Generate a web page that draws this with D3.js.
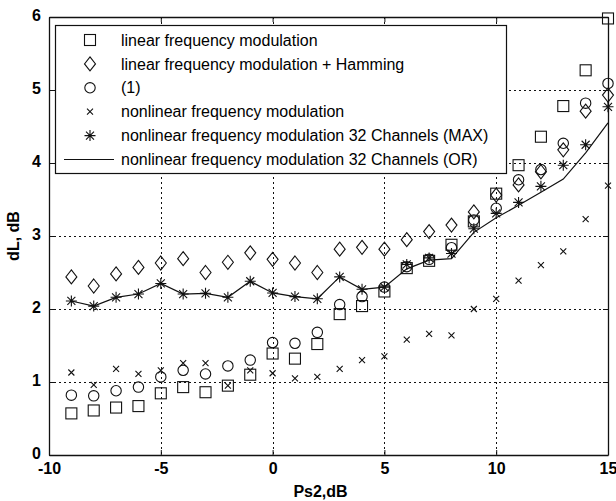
<!DOCTYPE html>
<html>
<head>
<meta charset="utf-8">
<script src="https://cdn.jsdelivr.net/npm/d3@7"></script>
<style>
  html, body { margin: 0; padding: 0; background: #fff; }
  svg { display: block; }
  text { font-family: "Liberation Sans", Arial, Helvetica, sans-serif; fill: #000; }
</style>
</head>
<body>
<svg id="chart" width="616" height="501"></svg>
<script>
// ---- data ----
const xValues = [-9,-8,-7,-6,-5,-4,-3,-2,-1,0,1,2,3,4,5,6,7,8,9,10,11,12,13,14,15];
const lfm        = [0.57,0.61,0.65,0.67,0.845,0.93,0.86,0.95,1.10,1.39,1.32,1.52,1.93,2.04,2.24,2.56,2.66,2.88,3.20,3.58,3.97,4.36,4.78,5.27,5.98];
const lfmHamming = [2.44,2.315,2.48,2.57,2.63,2.69,2.50,2.64,2.77,2.68,2.63,2.50,2.82,2.845,2.82,2.95,3.06,3.15,3.33,3.56,3.70,3.88,4.18,4.71,4.93];
const eq1        = [0.82,0.81,0.88,0.93,1.07,1.16,1.11,1.22,1.30,1.54,1.53,1.68,2.06,2.17,2.30,2.58,2.68,2.84,3.22,3.38,3.77,3.91,4.27,4.82,5.09];
const nlfm       = [1.13,0.96,1.18,1.11,1.16,1.26,1.26,0.95,1.16,1.12,1.05,1.07,1.18,1.30,1.35,1.58,1.66,1.64,2.00,2.14,2.39,2.60,2.79,3.23,3.69];
const nlfmMax    = [2.11,2.04,2.16,2.205,2.35,2.205,2.215,2.16,2.38,2.22,2.17,2.14,2.44,2.27,2.30,2.61,2.70,2.76,3.10,3.31,3.46,3.68,3.97,4.25,4.77];
const nlfmOr     = [2.11,2.04,2.16,2.205,2.35,2.205,2.215,2.16,2.38,2.22,2.17,2.14,2.44,2.27,2.30,2.55,2.67,2.69,3.05,3.25,3.42,3.60,3.78,4.14,4.55];
const xTicks = [-10,-5,0,5,10,15];
const xTickLabels = ["-10","-5","0","5","10","15"];
const yTicks = [0,1,2,3,4,5,6];
const yTickLabels = ["0","1","2","3","4","5","6"];
const legendLabels = [
  "linear frequency modulation",
  "linear frequency modulation + Hamming",
  "(1)",
  "nonlinear frequency modulation",
  "nonlinear frequency modulation 32 Channels (MAX)",
  "nonlinear frequency modulation 32 Channels (OR)"
];
const xLabel = "Ps2,dB";
const yLabel = "dL, dB";

// ---- layout ----
const svg = d3.select("#chart");
const L = 49, R = 608, T = 17, B = 455;
const x = d3.scaleLinear().domain([-10, 15]).range([L, R]);
const y = d3.scaleLinear().domain([0, 6]).range([B, T]);
const ink = "#111";

// grid
const grid = svg.append("g").attr("stroke", ink).attr("stroke-width", 1).attr("stroke-dasharray", "2,3");
xTicks.filter(v => v > -10 && v < 15).forEach(v => {
  grid.append("line").attr("x1", Math.round(x(v)) + 0.5).attr("x2", Math.round(x(v)) + 0.5).attr("y1", T).attr("y2", B);
});
yTicks.filter(v => v > 0 && v < 6).forEach(v => {
  grid.append("line").attr("y1", Math.round(y(v)) + 0.5).attr("y2", Math.round(y(v)) + 0.5).attr("x1", L).attr("x2", R);
});

// axes (box, inward ticks)
const tl = 5;
const xAxisB = d3.axisBottom(x).tickValues(xTicks).tickSizeInner(-tl).tickSizeOuter(0).tickPadding(8)
  .tickFormat((d, i) => xTickLabels[i]);
const xAxisT = d3.axisTop(x).tickValues(xTicks).tickSizeInner(-tl).tickSizeOuter(0).tickFormat("");
const yAxisL = d3.axisLeft(y).tickValues(yTicks).tickSizeInner(-tl).tickSizeOuter(0).tickPadding(8)
  .tickFormat((d, i) => yTickLabels[i]);
const yAxisR = d3.axisRight(y).tickValues(yTicks).tickSizeInner(-tl).tickSizeOuter(0).tickFormat("");

function styleAxis(g) {
  g.select(".domain").attr("stroke", ink).attr("stroke-width", 1.3);
  g.selectAll(".tick line").attr("stroke", ink);
  g.selectAll(".tick text").attr("font-size", 16).attr("font-weight", "bold")
   .attr("font-family", "'Liberation Sans', Arial, sans-serif").attr("fill", "#000");
}
svg.append("g").attr("transform", `translate(0,${B})`).call(xAxisB).call(styleAxis);
svg.append("g").attr("transform", `translate(0,${T})`).call(xAxisT).call(styleAxis);
const yl = svg.append("g").attr("transform", `translate(${L},0)`).call(yAxisL).call(styleAxis);
yl.selectAll(".tick text").attr("dy", "0.2em");
svg.append("g").attr("transform", `translate(${R},0)`).call(yAxisR).call(styleAxis);

// axis labels
svg.append("text").attr("x", (L + R) / 2 - 8).attr("y", 497).attr("text-anchor", "middle")
  .attr("font-size", 16).attr("font-weight", "bold").text(xLabel);
svg.append("text").attr("transform", `translate(19,${(T + B) / 2}) rotate(-90)`).attr("text-anchor", "middle")
  .attr("font-size", 16).attr("font-weight", "bold").text(yLabel);

// markers
const markers = {
  square: (g, cx, cy) => g.append("rect").attr("x", cx - 5.5).attr("y", cy - 5.5).attr("width", 11).attr("height", 11),
  diamond: (g, cx, cy) => g.append("path").attr("d", `M${cx},${cy - 7}L${cx + 5.5},${cy}L${cx},${cy + 7}L${cx - 5.5},${cy}Z`),
  circle: (g, cx, cy) => g.append("circle").attr("cx", cx).attr("cy", cy).attr("r", 5.2),
  cross: (g, cx, cy) => g.append("path").attr("d", `M${cx - 3},${cy - 3}L${cx + 3},${cy + 3}M${cx - 3},${cy + 3}L${cx + 3},${cy - 3}`),
  star: (g, cx, cy) => g.append("path").attr("d",
    `M${cx},${cy - 5.5}L${cx},${cy + 5.5}M${cx - 5.5},${cy}L${cx + 5.5},${cy}M${cx - 4},${cy - 4}L${cx + 4},${cy + 4}M${cx - 4},${cy + 4}L${cx + 4},${cy - 4}`)
};

const plot = svg.append("g").attr("fill", "none").attr("stroke", ink).attr("stroke-width", 1.1);

// OR line
const line = d3.line().x((d, i) => x(xValues[i])).y(d => y(d));
plot.append("path").datum(nlfmOr).attr("d", line).attr("stroke-width", 1.2);

const series = [
  { data: lfm, m: "square" },
  { data: lfmHamming, m: "diamond" },
  { data: eq1, m: "circle" },
  { data: nlfm, m: "cross" },
  { data: nlfmMax, m: "star" }
];
series.forEach(s => {
  const g = plot.append("g");
  s.data.forEach((v, i) => markers[s.m](g, x(xValues[i]), y(v)));
});

// legend
const lg = svg.append("g");
lg.append("rect").attr("x", 55.5).attr("y", 25.5).attr("width", 451).attr("height", 148)
  .attr("fill", "#fff").attr("stroke", ink).attr("stroke-width", 1.2);
const rowY = i => 40 + i * 23.9;
const lm = lg.append("g").attr("fill", "none").attr("stroke", ink).attr("stroke-width", 1.1);
["square", "diamond", "circle", "cross", "star"].forEach((m, i) => markers[m](lm, 90, rowY(i)));
lm.append("line").attr("x1", 64).attr("x2", 114).attr("y1", rowY(5)).attr("y2", rowY(5)).attr("stroke-width", 1.2);
legendLabels.forEach((t, i) => {
  lg.append("text").attr("x", 121).attr("y", rowY(i)).attr("dy", "0.35em").attr("font-size", 16).text(t);
});
</script>
</body>
</html>
